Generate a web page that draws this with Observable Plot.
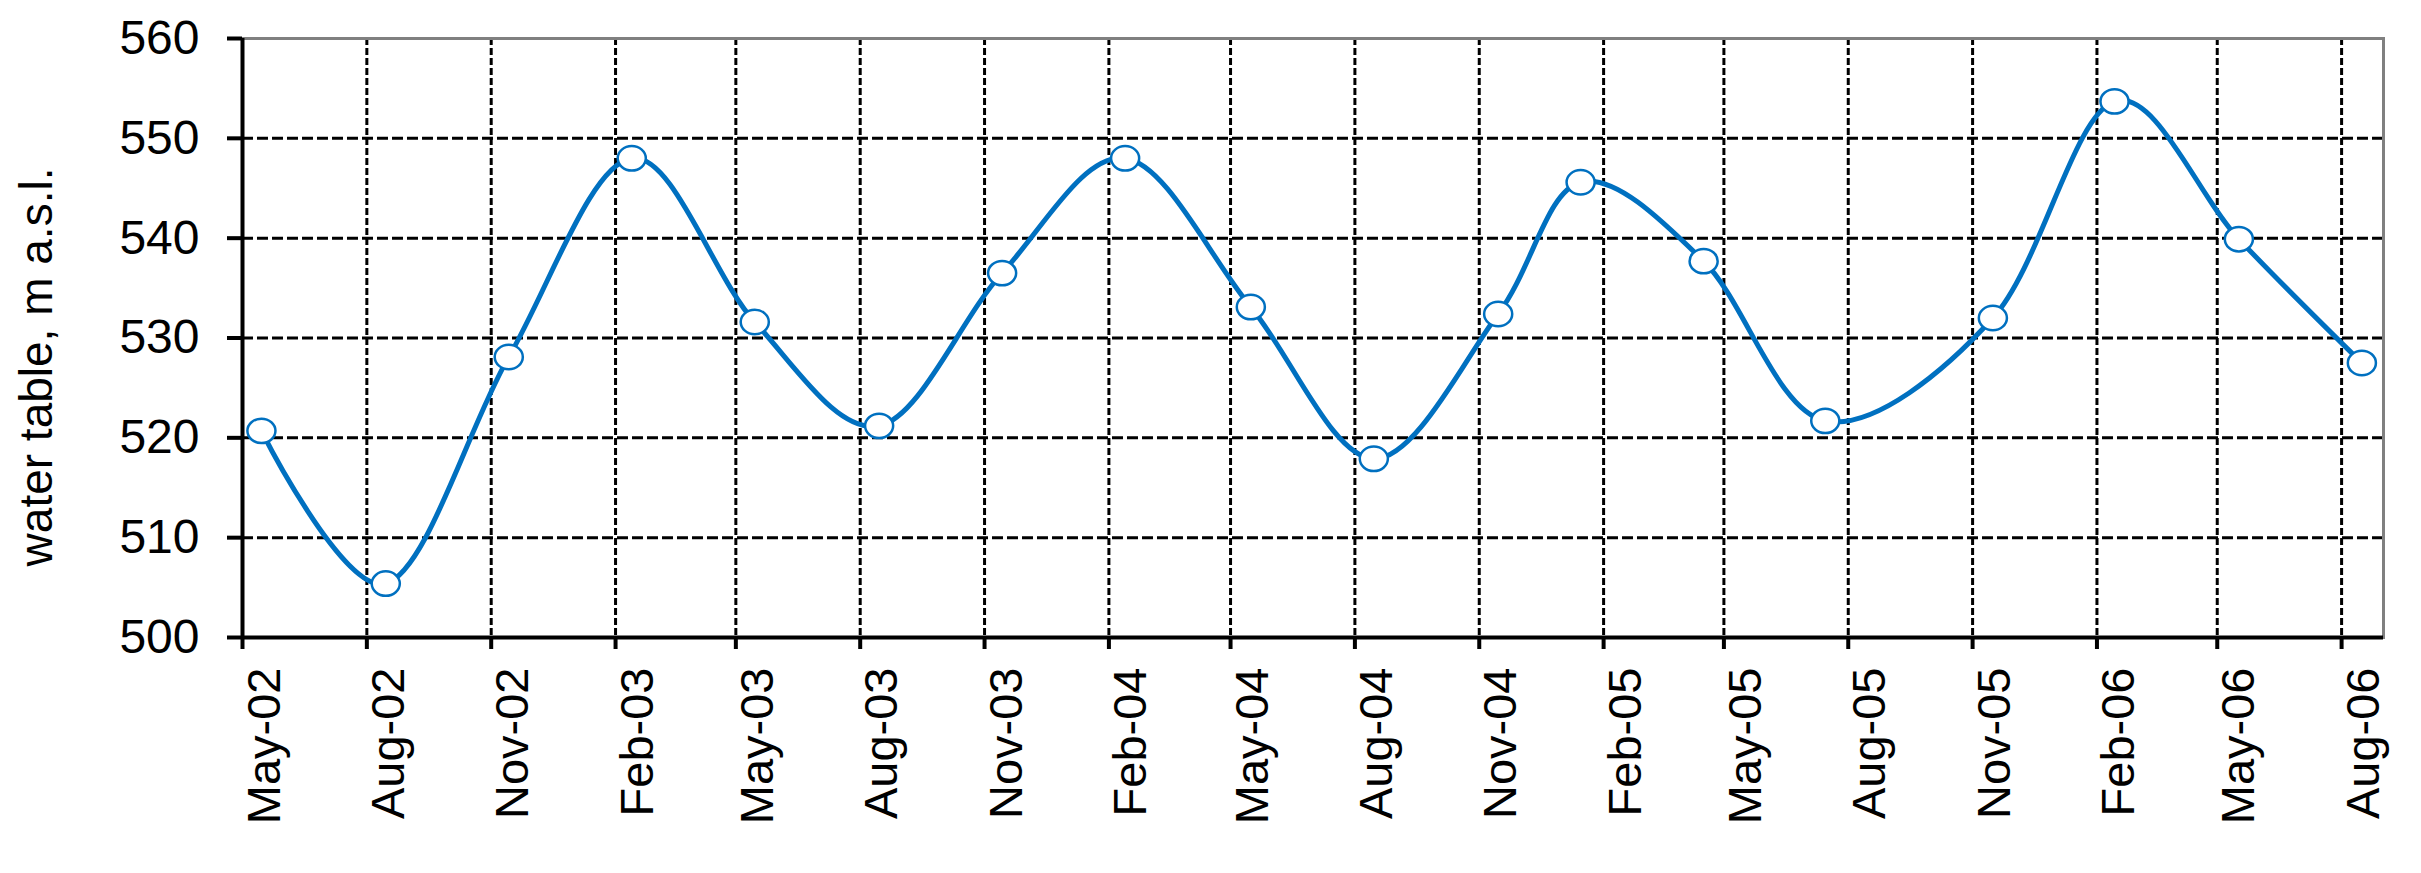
<!DOCTYPE html>
<html>
<head>
<meta charset="utf-8">
<script src="https://cdn.jsdelivr.net/npm/d3@7"></script>
<script src="https://cdn.jsdelivr.net/npm/@observablehq/plot@0.6"></script>
<style>
  html, body { margin: 0; padding: 0; background: #fff; }
  svg { display: block; }
</style>
</head>
<body>
<div id="chart"></div>
<script>
// Observation dates and water table levels (m a.s.l.)
const dates = ["2002-05-15","2002-08-15","2002-11-14","2003-02-13","2003-05-15","2003-08-15","2003-11-14","2004-02-13","2004-05-16","2004-08-15","2004-11-15","2005-01-15","2005-04-16","2005-07-15","2005-11-16","2006-02-14","2006-05-17","2006-08-16"];
const levels = [520.7,505.4,528.1,548.0,531.6,521.2,536.5,548.0,533.1,517.9,532.4,545.6,537.7,521.7,532.0,553.7,539.9,527.5];

// Axis ticks
const xTickDates = ["2002-05-01","2002-08-01","2002-11-01","2003-02-01","2003-05-01","2003-08-01","2003-11-01","2004-02-01","2004-05-01","2004-08-01","2004-11-01","2005-02-01","2005-05-01","2005-08-01","2005-11-01","2006-02-01","2006-05-01","2006-08-01"];
const xTickLabels = ["May-02","Aug-02","Nov-02","Feb-03","May-03","Aug-03","Nov-03","Feb-04","May-04","Aug-04","Nov-04","Feb-05","May-05","Aug-05","Nov-05","Feb-06","May-06","Aug-06"];
const yTicks = [500, 510, 520, 530, 540, 550, 560];
const xDomain = ["2002-05-01", "2006-09-01"];
const yDomain = [500, 560];
const yLabel = "water table, m a.s.l.";

const data = dates.map((d, i) => ({date: new Date(d), level: levels[i]}));
const tickDates = xTickDates.map(d => new Date(d));
const blue = "#0070C0";
const font = "'Liberation Sans', Arial, sans-serif";

// slightly wide ellipse marker, like the original
const ellipse = {
  draw(context, size) {
    const r = Math.sqrt(size / Math.PI);
    const rx = r * 1.08, ry = r * 0.94, k = 0.5523;
    context.moveTo(rx, 0);
    context.bezierCurveTo(rx, ry * k, rx * k, ry, 0, ry);
    context.bezierCurveTo(-rx * k, ry, -rx, ry * k, -rx, 0);
    context.bezierCurveTo(-rx, -ry * k, -rx * k, -ry, 0, -ry);
    context.bezierCurveTo(rx * k, -ry, rx, -ry * k, rx, 0);
    context.closePath();
  }
};

const chart = Plot.plot({
  width: 2421,
  height: 873,
  marginLeft: 242,
  marginRight: 38,
  marginTop: 38,
  marginBottom: 236,
  style: {fontFamily: font, background: "#fff", color: "#000"},
  x: {type: "utc", domain: xDomain.map(d => new Date(d))},
  y: {domain: yDomain},
  marks: [
    Plot.gridY(yTicks.filter(v => v > yDomain[0] && v < yDomain[1]), {stroke: "#000", strokeOpacity: 1, strokeWidth: 3, strokeDasharray: "11,4"}),
    Plot.gridX(tickDates, {stroke: "#000", strokeOpacity: 1, strokeWidth: 3, strokeDasharray: "7,3"}),
    Plot.frame({stroke: "#808080", strokeWidth: 3}),
    Plot.ruleX([new Date(xDomain[0])], {stroke: "#000", strokeWidth: 4}),
    Plot.ruleY([yDomain[0]], {stroke: "#000", strokeWidth: 4}),
    Plot.axisY(yTicks, {tickSize: 15, tickPadding: 28, fontSize: 48, strokeWidth: 4, label: null}),
    Plot.axisX(tickDates, {tickSize: 12, tickFormat: () => "", strokeWidth: 4, label: null}),
    Plot.text(tickDates, {x: d => d, frameAnchor: "bottom", text: (d, i) => xTickLabels[i], rotate: -90, textAnchor: "end", lineAnchor: "middle", dy: 30, dx: 22, fontSize: 47, fill: "#000"}),
    Plot.text([yLabel], {frameAnchor: "left", rotate: -90, textAnchor: "middle", lineAnchor: "middle", dx: -205, dy: 29, fontSize: 46, fill: "#000"}),
    Plot.line(data, {x: "date", y: "level", stroke: blue, strokeWidth: 5, curve: "cardinal", tension: 0}),
    Plot.dot(data, {x: "date", y: "level", r: 13, symbol: ellipse, fill: "#fff", stroke: blue, strokeWidth: 2.5})
  ]
});
document.getElementById("chart").appendChild(chart);
</script>
</body>
</html>
